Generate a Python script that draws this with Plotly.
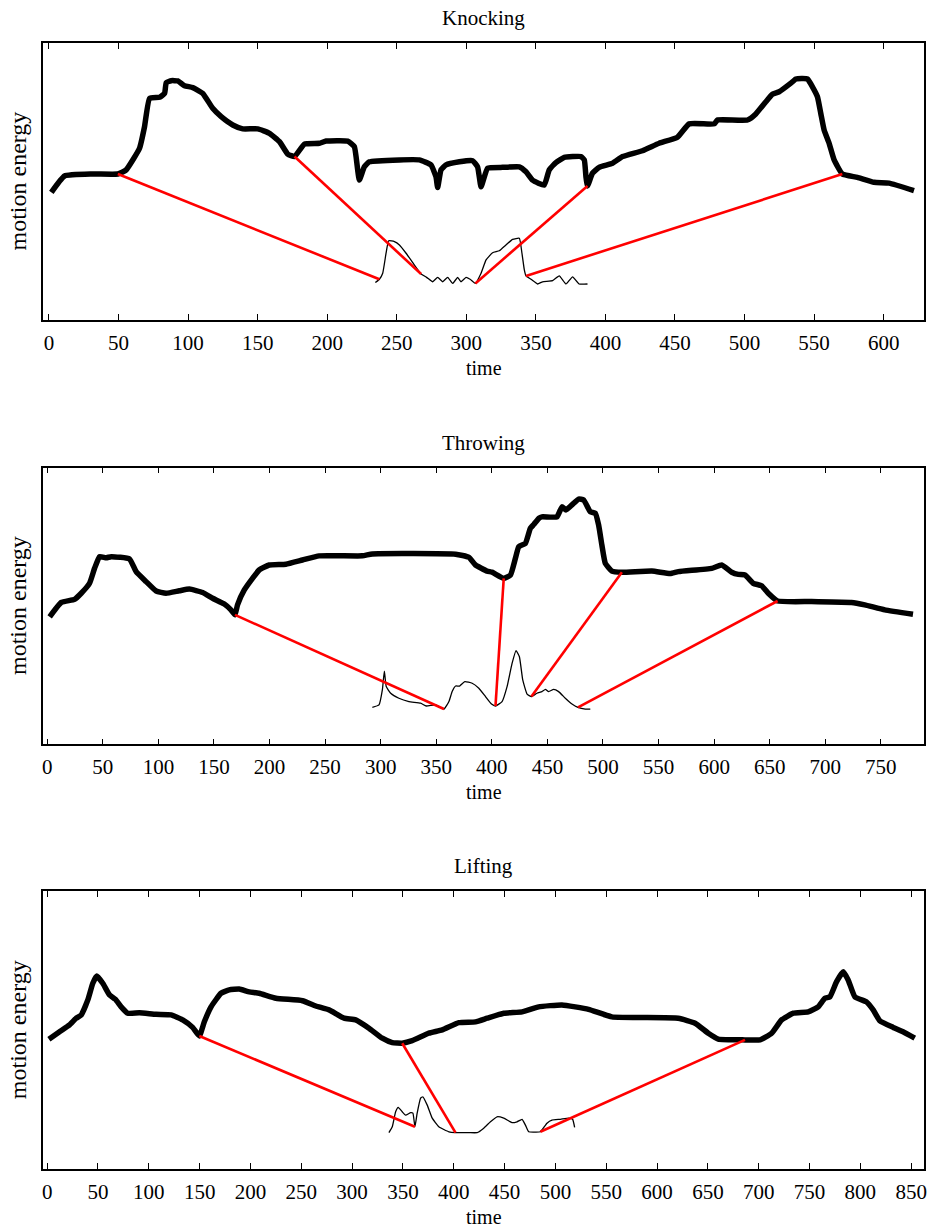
import numpy as np
import plotly.graph_objects as go

# ---- Knocking ----
knock_t = [1.7, 11.2, 31.5, 49.5, 55.5, 65.1, 68.7, 72.3, 79.5, 83.1, 84.3, 87.9, 92.6, 97.4,
           103.4, 110.6, 117.7, 123.8, 132.1, 139.3, 150.1, 158.5, 165.7, 171.6, 176.5, 183.6,
           194.4, 199.2, 214.7, 219.5, 221.9, 223.1, 226.7, 230.3, 251.9, 266.2, 274.6, 278.2,
           279.4, 281.8, 285.4, 295.0, 304.5, 308.1, 310.6, 315.3, 326.1, 338.1, 342.9, 347.6,
           356.0, 359.6, 364.4, 370.4, 382.4, 384.8, 386.0, 387.1, 390.7, 395.5, 405.1, 412.3,
           426.6, 438.6, 451.8, 460.2, 478.2, 480.5, 502.1, 508.1, 515.3, 520.0, 524.9, 533.3,
           536.9, 545.2, 548.8, 552.4, 554.8, 557.2, 560.8, 564.4, 570.3, 581.1, 593.1, 603.9, 621.8]
knock_e = [46.1, 52.0, 52.7, 52.7, 54.2, 62.0, 69.8, 80.0, 80.4, 81.8, 85.7, 86.4, 86.3, 84.6,
           83.9, 81.8, 76.4, 73.4, 70.4, 69.0, 69.0, 67.4, 64.4, 59.9, 59.0, 63.5,
           63.8, 64.6, 64.6, 62.6, 54.2, 50.5, 55.3, 57.1, 57.8, 57.8, 56.0, 51.7,
           47.8, 54.2, 56.0, 57.1, 57.5, 55.3, 48.1, 54.8, 55.1, 55.3, 53.5, 50.5,
           48.7, 54.2, 56.8, 58.7, 59.0, 57.8, 51.7, 48.4, 53.0, 55.1, 56.6, 59.0,
           61.1, 63.8, 66.0, 70.8, 70.8, 72.2, 72.2, 74.4, 78.8, 81.5, 82.4, 85.5,
           87.0, 87.0, 84.2, 80.6, 74.6, 68.6, 63.8, 57.8, 52.7, 51.5, 49.7, 49.4, 46.7]
knock_ref_t = [234.6, 237.5, 239.9, 242.3, 244.2, 248.3, 251.9, 256.7, 262.6, 267.5, 271.5, 275.8,
               279.4, 283.0, 286.6, 290.2, 293.8, 296.2, 299.8, 302.7, 306.5, 310.6, 314.2, 318.9,
               323.7, 328.5, 333.3, 338.1, 340.0, 341.7, 342.9, 346.5, 351.2, 354.8, 362.0, 366.8,
               371.6, 376.4, 381.1, 387.1]
knock_ref_e = [13.5, 14.7, 16.9, 24.1, 28.6, 28.3, 27.1, 24.1, 19.9, 16.6, 15.4, 13.8,
               15.4, 13.8, 15.4, 13.2, 15.4, 13.8, 15.4, 14.7, 13.2, 16.9, 21.7, 24.3,
               25.0, 27.1, 29.1, 29.5, 24.1, 18.1, 15.9, 14.7, 13.0, 13.8, 14.2, 15.9,
               13.0, 15.6, 13.0, 13.0]
knock_links = [(49.5, 237.5), (176.5, 267.5), (387.1, 306.5), (570.3, 342.9)]

# ---- Throwing ----
throw_t = [2.2, 12.7, 24.6, 30.6, 38.1, 42.6, 47.1, 53.1, 57.6, 74.0, 80.0, 89.0, 98.0, 106.9,
           118.9, 127.9, 139.8, 148.8, 159.3, 165.3, 168.9, 171.2, 177.3, 184.7, 190.7, 199.7,
           214.7, 229.6, 244.6, 283.5, 292.5, 367.4, 379.3, 385.3, 395.7, 400.2, 410.7, 416.8,
           421.2, 424.2, 430.2, 434.7, 437.9, 442.4, 445.1, 458.6, 463.1, 466.7, 472.1, 478.1,
           482.6, 488.6, 493.1, 496.1, 499.0, 502.1, 508.0, 517.0, 543.9, 560.4, 567.9, 597.8,
           606.8, 615.8, 621.8, 627.8, 635.2, 642.7, 648.7, 657.1, 687.6, 723.5, 735.5, 753.5, 778.9]
throw_e = [46.1, 51.3, 52.4, 54.6, 58.2, 63.6, 67.8, 67.4, 67.8, 67.0, 62.4, 58.8, 55.4, 54.6,
           55.5, 56.1, 54.9, 52.8, 50.7, 48.6, 46.8, 50.4, 55.8, 60.0, 63.0, 64.8,
           65.1, 66.6, 68.1, 68.1, 68.8, 68.7, 67.6, 64.8, 62.6, 62.2, 60.0, 61.2,
           67.2, 71.4, 72.6, 78.1, 79.5, 81.7, 82.2, 82.2, 85.8, 84.7, 86.5, 88.6,
           88.3, 84.0, 83.5, 79.2, 72.0, 65.4, 62.6, 62.2, 62.6, 61.7, 62.4, 63.6,
           64.8, 62.2, 61.4, 61.2, 58.2, 57.3, 54.6, 51.8, 51.6, 51.3, 50.4, 48.6, 47.0]
throw_ref_t = [292.5, 298.5, 301.5, 303.3, 305.0, 309.0, 316.4, 325.4, 335.9, 341.0, 349.4, 356.9,
               361.4, 364.3, 367.4, 371.0, 375.7, 382.3, 388.3, 394.3, 399.7, 403.3, 409.2, 413.7,
               418.2, 421.8, 424.8, 427.8, 431.7, 435.6, 440.6, 445.1, 448.2, 451.1, 455.6, 460.1,
               466.1, 472.1, 477.5, 484.1, 488.6]
throw_ref_e = [13.4, 14.3, 19.7, 26.5, 20.9, 18.5, 16.7, 15.5, 14.9, 13.9, 14.3, 12.8,
               15.5, 19.1, 21.1, 21.1, 22.7, 22.1, 20.3, 17.3, 14.6, 13.9, 15.5, 20.9,
               29.3, 33.9, 31.7, 23.3, 18.2, 17.3, 18.5, 19.1, 19.9, 19.1, 19.9, 19.1,
               16.7, 14.6, 13.4, 12.8, 12.8]
throw_links = [(168.9, 356.9), (410.7, 403.3), (517.0, 435.6), (657.1, 477.5)]

# ---- Lifting ----
lift_t = [1.7, 12.2, 22.0, 28.6, 33.5, 40.0, 44.9, 48.8, 54.7, 61.3, 67.2, 72.8, 79.3, 90.7,
          107.1, 121.9, 133.3, 143.1, 149.7, 154.6, 161.2, 171.0, 179.1, 188.9, 198.8, 208.6,
          225.0, 251.1, 264.3, 277.3, 292.1, 303.5, 316.6, 329.7, 339.5, 349.3, 359.1, 375.5,
          388.6, 405.0, 421.4, 432.8, 449.2, 467.2, 483.5, 506.4, 532.6, 555.5, 620.9, 637.4,
          650.4, 660.2, 686.5, 701.3, 712.7, 722.5, 734.0, 748.7, 758.5, 765.1, 770.0, 776.5,
          783.1, 788.0, 794.6, 806.0, 812.6, 819.1, 832.2, 842.0, 853.5]
lift_e = [46.7, 49.4, 51.9, 54.3, 55.5, 60.9, 66.9, 69.5, 66.9, 62.7, 61.1, 58.4, 56.1, 56.3,
          55.7, 55.5, 53.7, 51.0, 47.9, 53.0, 58.4, 63.3, 64.5, 64.8, 63.8, 63.3,
          61.5, 60.6, 58.7, 57.3, 54.3, 53.7, 50.7, 47.1, 45.5, 45.3, 46.2, 48.9,
          50.1, 52.7, 53.0, 54.3, 56.1, 56.6, 58.4, 59.1, 57.5, 54.8, 54.3, 52.5,
          48.9, 46.8, 46.5, 46.5, 48.9, 53.7, 56.1, 56.6, 58.4, 61.5, 62.0, 67.4,
          71.0, 68.1, 62.0, 60.2, 57.3, 53.4, 51.0, 49.4, 47.1]
lift_ref_t = [336.2, 339.5, 342.8, 345.4, 349.3, 352.6, 357.6, 359.8, 361.8, 364.0, 367.4, 369.6,
              373.9, 378.8, 385.3, 395.2, 401.7, 414.8, 423.0, 429.5, 436.1, 442.6, 449.2, 457.3,
              462.2, 467.2, 470.5, 473.7, 480.3, 485.2, 491.7, 496.6, 504.9, 513.0, 516.9, 518.9]
lift_ref_e = [13.1, 15.2, 20.6, 22.2, 20.6, 19.4, 20.3, 20.1, 15.2, 20.1, 25.5, 26.0,
              23.0, 18.3, 15.2, 13.4, 13.1, 13.1, 13.1, 14.7, 17.0, 18.8, 18.3, 16.7,
              17.0, 17.9, 15.8, 13.4, 13.3, 13.4, 16.5, 17.6, 17.9, 18.3, 17.9, 15.0]
lift_links = [(149.7, 361.8), (349.3, 401.7), (686.5, 485.2)]

panels = [
    ("Knocking", knock_t, knock_e, knock_ref_t, knock_ref_e, knock_links, [-4.3, 629.0], 600, [0.754, 1.0]),
    ("Throwing", throw_t, throw_e, throw_ref_t, throw_ref_e, throw_links, [-3.8, 788.8], 750, [0.377, 0.623]),
    ("Lifting", lift_t, lift_e, lift_ref_t, lift_ref_e, lift_links, [-4.1, 862.6], 850, [0.0, 0.2466]),
]

FONT = "Liberation Serif"
fig = go.Figure()
annotations = []

for i, (name, t, e, rt, re_, links, xr, xmax, dom) in enumerate(panels, start=1):
    xa = "x" if i == 1 else f"x{i}"
    ya = "y" if i == 1 else f"y{i}"
    # long motion-energy sequence
    fig.add_trace(go.Scatter(x=t, y=e, mode="lines", xaxis=xa, yaxis=ya,
                             line=dict(color="black", width=5.5, shape="spline", smoothing=0.4),
                             showlegend=False, hoverinfo="skip"))
    # short template sequence
    fig.add_trace(go.Scatter(x=rt, y=re_, mode="lines", xaxis=xa, yaxis=ya,
                             line=dict(color="black", width=1.3, shape="spline", smoothing=0.4),
                             showlegend=False, hoverinfo="skip"))
    # alignment links between the two sequences
    for ta, tb in links:
        ya_val = float(np.interp(ta, t, e))
        yb_val = float(np.interp(tb, rt, re_))
        fig.add_trace(go.Scatter(x=[ta, tb], y=[ya_val, yb_val], mode="lines", xaxis=xa, yaxis=ya,
                                 line=dict(color="#ff0000", width=2.6),
                                 showlegend=False, hoverinfo="skip"))

    xkey = "xaxis" if i == 1 else f"xaxis{i}"
    ykey = "yaxis" if i == 1 else f"yaxis{i}"
    fig.update_layout({
        xkey: dict(domain=[0, 1], anchor=ya, range=xr,
                   tickmode="array", tickvals=list(range(0, xmax + 1, 50)),
                   ticks="inside", ticklen=6, tickwidth=1, tickcolor="black",
                   showline=True, linecolor="black", linewidth=1.5, mirror="ticks",
                   showgrid=False, zeroline=False, ticklabelstandoff=3,
                   tickfont=dict(family=FONT, size=21, color="black")),
        ykey: dict(domain=dom, anchor=xa, range=[0, 100],
                   showticklabels=False, ticks="",
                   showline=True, linecolor="black", linewidth=1.5, mirror=True,
                   showgrid=False, zeroline=False),
    })
    xdom = "x domain" if i == 1 else f"x{i} domain"
    ydom = "y domain" if i == 1 else f"y{i} domain"
    annotations.append(dict(text=name, xref=xdom, yref=ydom, x=0.5, y=1, yshift=25,
                            xanchor="center", yanchor="middle", showarrow=False,
                            font=dict(family=FONT, size=21, color="black")))
    annotations.append(dict(text="time", xref=xdom, yref=ydom, x=0.5, y=0, yshift=-48,
                            xanchor="center", yanchor="middle", showarrow=False,
                            font=dict(family=FONT, size=20, color="black")))
    annotations.append(dict(text="motion energy", xref=xdom, yref=ydom, x=0, y=0.5, xshift=-25,
                            xanchor="center", yanchor="middle", textangle=-90, showarrow=False,
                            font=dict(family=FONT, size=24, color="black")))

fig.update_layout(width=928, height=1229, margin=dict(l=43, r=2, t=43, b=60),
                  paper_bgcolor="white", plot_bgcolor="white", annotations=annotations)

fig.write_html("out.html")
